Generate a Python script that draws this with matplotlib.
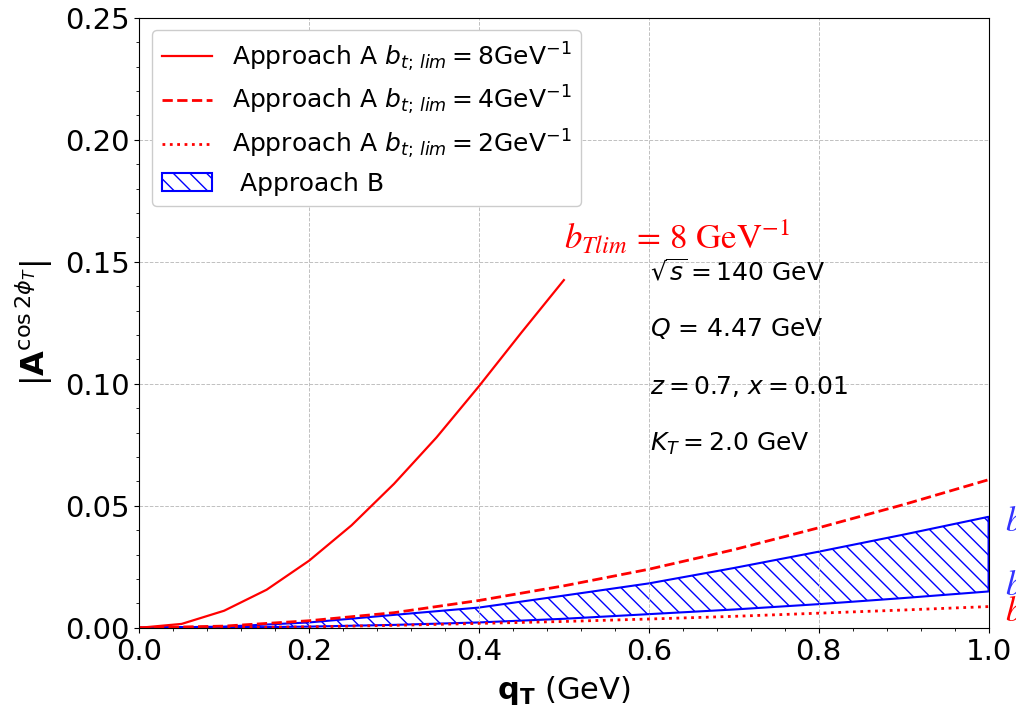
import numpy as np
import matplotlib
matplotlib.use('Agg')
import matplotlib.pyplot as plt
from matplotlib.ticker import AutoMinorLocator

# solid curve, b_lim = 8 GeV^-1 (stops at q_T = 0.5)
qt_a8 = [0.0, 0.05, 0.10, 0.15, 0.20, 0.25, 0.30, 0.35, 0.40, 0.45, 0.50]
asym_a8 = [0.0, 0.0016, 0.0070, 0.0156, 0.0275, 0.0420, 0.0590, 0.0780, 0.0990, 0.1210, 0.1425]

qt = [0.0, 0.1, 0.2, 0.3, 0.4, 0.5, 0.6, 0.7, 0.8, 0.9, 1.0]
asym_a4 = [0.0, 0.0007, 0.0029, 0.0062, 0.0112, 0.0172, 0.0240, 0.0320, 0.0410, 0.0505, 0.0607]
asym_a2 = [0.0, 0.0001, 0.0004, 0.0010, 0.0018, 0.0026, 0.0036, 0.0047, 0.0060, 0.0073, 0.0087]
band_hi = [0.0, 0.0005, 0.0022, 0.0053, 0.0083, 0.0132, 0.0182, 0.0245, 0.0312, 0.0382, 0.0455]
band_lo = [0.0, 0.0001, 0.0005, 0.0012, 0.0022, 0.0037, 0.0056, 0.0075, 0.0097, 0.0122, 0.0149]

info = [r'$\sqrt{s} = 140$ GeV', r'$Q$ = 4.47 GeV', r'$z=0.7$, $x=0.01$', r'$K_T=2.0$ GeV']

fig = plt.figure(figsize=(10.16, 7.11), dpi=100)
ax = fig.add_axes([0.137, 0.117, 0.836, 0.858])

ax.plot(qt_a8, asym_a8, color='red', lw=1.6, label=r'Approach A $b_{t;\,lim}=8$GeV$^{-1}$')
ax.plot(qt, asym_a4, color='red', ls='--', lw=2, label=r'Approach A $b_{t;\,lim}=4$GeV$^{-1}$')
ax.plot(qt, asym_a2, color='red', ls=':', lw=2, label=r'Approach A $b_{t;\,lim}=2$GeV$^{-1}$')
ax.fill_between(qt, band_lo, band_hi, facecolor='none', edgecolor='blue',
                hatch='\\\\', lw=1.5, label=' Approach B')

ax.set_xlim(0, 1.0)
ax.set_ylim(0, 0.25)
ax.set_yticks([0, 0.05, 0.10, 0.15, 0.20, 0.25])
ax.xaxis.set_minor_locator(AutoMinorLocator(5))
ax.yaxis.set_minor_locator(AutoMinorLocator(5))
ax.tick_params(labelsize=21)
ax.grid(True, ls='--', color='#c0c0c0', lw=0.7)

ax.set_xlabel(r'$\mathbf{q_T}$ (GeV)', fontsize=22, labelpad=6)
ax.set_ylabel(r'$|\mathbf{A}^{\cos 2\phi_T}|$', fontsize=23, labelpad=7)

ax.legend(loc='upper left', fontsize=18, framealpha=1.0, labelspacing=0.42)

for i, s in enumerate(info):
    ax.text(0.601, 0.146 - i * 0.0235, s, fontsize=18, va='center')

ax.text(0.50, 0.160, r'$b_{Tlim}\,=\,8\ \mathrm{GeV}^{-1}$', color='red', fontsize=25,
        va='center', math_fontfamily='stix')
ax.text(1.019, 0.044, r'$b_{Tlim}\,=\,8\ \mathrm{GeV}^{-1}$', color='blue', fontsize=25,
        va='center', math_fontfamily='stix', alpha=0.8)
ax.text(1.019, 0.018, r'$b_{Tlim}\,=\,2\ \mathrm{GeV}^{-1}$', color='blue', fontsize=25,
        va='center', math_fontfamily='stix', alpha=0.8)
ax.text(1.019, 0.0075, r'$b_{Tlim}\,=\,2\ \mathrm{GeV}^{-1}$', color='red', fontsize=25,
        va='center', math_fontfamily='stix')

fig.savefig('out.png', dpi=100)
